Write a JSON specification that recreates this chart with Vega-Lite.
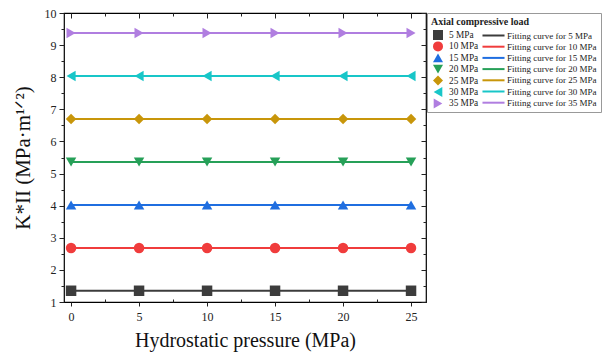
{
  "$schema": "https://vega.github.io/schema/vega-lite/v6.json",
  "width": 362,
  "height": 289,
  "autosize": "none",
  "padding": {"left": 64, "top": 13, "right": 183, "bottom": 55},
  "background": "white",
  "config": {
    "font": "Liberation Serif",
    "view": {"stroke": "black", "strokeWidth": 1.2},
    "style": {"guide-label": {"font": "Liberation Serif", "fill": "#222"}, "guide-title": {"font": "Liberation Serif", "fill": "#111"}},
    "axis": {"domain": false, "grid": false, "labelFont": "Liberation Serif", "titleFont": "Liberation Serif", "labelColor": "#222", "tickColor": "#222", "titleColor": "#111", "titleFontWeight": "normal"},
    "legend": {"labelFont": "Liberation Serif", "titleFont": "Liberation Serif", "labelFontWeight": "normal"}
  },
  "data": {"values": [
    {"load": "5 MPa", "fit": "Fitting curve for 5 MPa", "p": 0, "K": 1.35},
    {"load": "5 MPa", "fit": "Fitting curve for 5 MPa", "p": 5, "K": 1.35},
    {"load": "5 MPa", "fit": "Fitting curve for 5 MPa", "p": 10, "K": 1.35},
    {"load": "5 MPa", "fit": "Fitting curve for 5 MPa", "p": 15, "K": 1.35},
    {"load": "5 MPa", "fit": "Fitting curve for 5 MPa", "p": 20, "K": 1.35},
    {"load": "5 MPa", "fit": "Fitting curve for 5 MPa", "p": 25, "K": 1.35},
    {"load": "10 MPa", "fit": "Fitting curve for 10 MPa", "p": 0, "K": 2.68},
    {"load": "10 MPa", "fit": "Fitting curve for 10 MPa", "p": 5, "K": 2.68},
    {"load": "10 MPa", "fit": "Fitting curve for 10 MPa", "p": 10, "K": 2.68},
    {"load": "10 MPa", "fit": "Fitting curve for 10 MPa", "p": 15, "K": 2.68},
    {"load": "10 MPa", "fit": "Fitting curve for 10 MPa", "p": 20, "K": 2.68},
    {"load": "10 MPa", "fit": "Fitting curve for 10 MPa", "p": 25, "K": 2.68},
    {"load": "15 MPa", "fit": "Fitting curve for 15 MPa", "p": 0, "K": 4.02},
    {"load": "15 MPa", "fit": "Fitting curve for 15 MPa", "p": 5, "K": 4.02},
    {"load": "15 MPa", "fit": "Fitting curve for 15 MPa", "p": 10, "K": 4.02},
    {"load": "15 MPa", "fit": "Fitting curve for 15 MPa", "p": 15, "K": 4.02},
    {"load": "15 MPa", "fit": "Fitting curve for 15 MPa", "p": 20, "K": 4.02},
    {"load": "15 MPa", "fit": "Fitting curve for 15 MPa", "p": 25, "K": 4.02},
    {"load": "20 MPa", "fit": "Fitting curve for 20 MPa", "p": 0, "K": 5.36},
    {"load": "20 MPa", "fit": "Fitting curve for 20 MPa", "p": 5, "K": 5.36},
    {"load": "20 MPa", "fit": "Fitting curve for 20 MPa", "p": 10, "K": 5.36},
    {"load": "20 MPa", "fit": "Fitting curve for 20 MPa", "p": 15, "K": 5.36},
    {"load": "20 MPa", "fit": "Fitting curve for 20 MPa", "p": 20, "K": 5.36},
    {"load": "20 MPa", "fit": "Fitting curve for 20 MPa", "p": 25, "K": 5.36},
    {"load": "25 MPa", "fit": "Fitting curve for 25 MPa", "p": 0, "K": 6.7},
    {"load": "25 MPa", "fit": "Fitting curve for 25 MPa", "p": 5, "K": 6.7},
    {"load": "25 MPa", "fit": "Fitting curve for 25 MPa", "p": 10, "K": 6.7},
    {"load": "25 MPa", "fit": "Fitting curve for 25 MPa", "p": 15, "K": 6.7},
    {"load": "25 MPa", "fit": "Fitting curve for 25 MPa", "p": 20, "K": 6.7},
    {"load": "25 MPa", "fit": "Fitting curve for 25 MPa", "p": 25, "K": 6.7},
    {"load": "30 MPa", "fit": "Fitting curve for 30 MPa", "p": 0, "K": 8.04},
    {"load": "30 MPa", "fit": "Fitting curve for 30 MPa", "p": 5, "K": 8.04},
    {"load": "30 MPa", "fit": "Fitting curve for 30 MPa", "p": 10, "K": 8.04},
    {"load": "30 MPa", "fit": "Fitting curve for 30 MPa", "p": 15, "K": 8.04},
    {"load": "30 MPa", "fit": "Fitting curve for 30 MPa", "p": 20, "K": 8.04},
    {"load": "30 MPa", "fit": "Fitting curve for 30 MPa", "p": 25, "K": 8.04},
    {"load": "35 MPa", "fit": "Fitting curve for 35 MPa", "p": 0, "K": 9.38},
    {"load": "35 MPa", "fit": "Fitting curve for 35 MPa", "p": 5, "K": 9.38},
    {"load": "35 MPa", "fit": "Fitting curve for 35 MPa", "p": 10, "K": 9.38},
    {"load": "35 MPa", "fit": "Fitting curve for 35 MPa", "p": 15, "K": 9.38},
    {"load": "35 MPa", "fit": "Fitting curve for 35 MPa", "p": 20, "K": 9.38},
    {"load": "35 MPa", "fit": "Fitting curve for 35 MPa", "p": 25, "K": 9.38}
  ]},
  "resolve": {"scale": {"color": "independent", "shape": "independent"}, "legend": {"color": "independent", "shape": "independent"}, "axis": {"x": "independent", "y": "independent"}},
  "layer": [
    {
      "mark": {"type": "line", "strokeWidth": 2},
      "encoding": {
        "x": {"field": "p", "type": "quantitative", "scale": {"domain": [-0.52, 26.1], "nice": false, "zero": false},
          "axis": {"orient": "bottom", "values": [0, 2.5, 5, 7.5, 10, 12.5, 15, 17.5, 20, 22.5, 25], "format": "~g", "labelExpr": "datum.value % 5 === 0 ? datum.label : ''", "tickSize": {"condition": {"test": "datum.value % 5 === 0", "value": 4}, "value": -3}, "labelFontSize": 12, "labelPadding": 5, "title": "Hydrostatic pressure (MPa)", "titleFontSize": 20, "titlePadding": 8}},
        "y": {"field": "K", "type": "quantitative", "scale": {"domain": [1, 10], "nice": false, "zero": false},
          "axis": {"orient": "left", "values": [1, 1.5, 2, 2.5, 3, 3.5, 4, 4.5, 5, 5.5, 6, 6.5, 7, 7.5, 8, 8.5, 9, 9.5, 10], "format": "~g", "labelExpr": "datum.value % 1 === 0 ? datum.label : ''", "tickSize": {"condition": {"test": "datum.value % 1 === 0", "value": 5}, "value": 3}, "labelFontSize": 12, "labelPadding": 3, "title": "K*II (MPa·m¹ᐟ²)", "titleFontSize": 21, "titlePadding": 11}},
        "color": {"field": "fit", "type": "nominal",
          "scale": {"domain": ["Fitting curve for 5 MPa", "Fitting curve for 10 MPa", "Fitting curve for 15 MPa", "Fitting curve for 20 MPa", "Fitting curve for 25 MPa", "Fitting curve for 30 MPa", "Fitting curve for 35 MPa"],
            "range": ["#3c3c3c", "#f03c3c", "#1f6ee0", "#26a058", "#c8960a", "#18c6c8", "#b07ee0"]},
          "legend": {"orient": "none", "legendX": 363, "legendY": 0, "title": " ", "titleFontSize": 10, "titlePadding": 3, "padding": 4, "strokeColor": "#999", "symbolType": "M-2.45,0H2.45", "symbolSize": 81, "symbolStrokeWidth": 2, "symbolOffset": 57, "labelFontSize": 9, "labelFont": "Liberation Serif", "labelColor": "#222", "labelOffset": 8, "rowPadding": 0.2}}
      }
    },
    {
      "mark": {"type": "point", "filled": true, "size": 110, "opacity": 1},
      "encoding": {
        "x": {"field": "p", "type": "quantitative", "axis": {"orient": "top", "values": [0, 2.5, 5, 7.5, 10, 12.5, 15, 17.5, 20, 22.5, 25], "labels": false, "title": null, "tickSize": {"condition": {"test": "datum.value % 5 === 0", "value": -5}, "value": -3}}},
        "y": {"field": "K", "type": "quantitative", "axis": {"orient": "right", "values": [1, 1.5, 2, 2.5, 3, 3.5, 4, 4.5, 5, 5.5, 6, 6.5, 7, 7.5, 8, 8.5, 9, 9.5, 10], "labels": false, "title": null, "tickSize": {"condition": {"test": "datum.value % 1 === 0", "value": -5}, "value": -3}}},
        "color": {"field": "load", "type": "nominal",
          "scale": {"domain": ["5 MPa", "10 MPa", "15 MPa", "20 MPa", "25 MPa", "30 MPa", "35 MPa"],
            "range": ["#3c3c3c", "#f03c3c", "#1f6ee0", "#26a058", "#c8960a", "#18c6c8", "#b07ee0"]},
          "legend": {"orient": "none", "legendX": 363, "legendY": 0, "title": "Axial compressive load", "titleFontSize": 10, "titleFontWeight": "bold", "titleColor": "#222", "titlePadding": 3, "padding": 4, "symbolSize": 100, "symbolStrokeWidth": 0, "symbolOffset": 2, "labelFontSize": 9.3, "labelColor": "#222", "labelOffset": 6, "rowPadding": 0.4}},
        "shape": {"field": "load", "type": "nominal",
          "scale": {"domain": ["5 MPa", "10 MPa", "15 MPa", "20 MPa", "25 MPa", "30 MPa", "35 MPa"],
            "range": ["square", "circle", "triangle-up", "triangle-down", "diamond", "triangle-left", "triangle-right"]},
          "legend": {"orient": "none", "legendX": 363, "legendY": 0, "title": "Axial compressive load", "titleFontSize": 10, "titleFontWeight": "bold", "titleColor": "#222", "titlePadding": 3, "padding": 4, "symbolSize": 100, "symbolStrokeWidth": 0, "symbolOffset": 2, "labelFontSize": 9.3, "labelColor": "#222", "labelOffset": 6, "rowPadding": 0.4}}
      }
    }
  ]
}
